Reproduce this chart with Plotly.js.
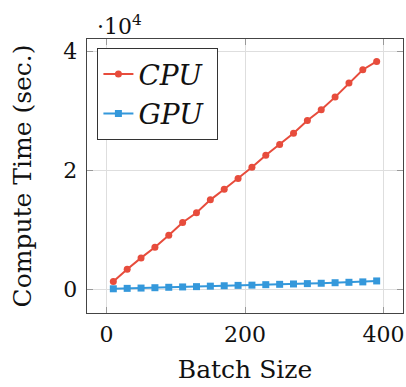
<!DOCTYPE html>
<html>
<head>
<meta charset="utf-8">
<script src="https://cdn.plot.ly/plotly-3.0.1.min.js"></script>
<style>html,body{margin:0;padding:0;background:#fff;}#chart{width:406px;height:387px;}</style>
</head>
<body>
<div id="chart"></div>
<script>
const batchSize = [10, 30, 50, 70, 90, 110, 130, 150, 170, 190, 210, 230, 250, 270, 290, 310, 330, 350, 370, 390];
const cpuTime = [1290, 3370, 5280, 7080, 9100, 11240, 12870, 15060, 16850, 18650, 20560, 22580, 24380, 26290, 28430, 30220, 32360, 34720, 36970, 38370];
const gpuTime = [80, 150, 200, 260, 330, 390, 440, 520, 590, 650, 690, 770, 830, 890, 950, 1010, 1100, 1170, 1240, 1400];
const seriesNames = ["CPU", "GPU"];
const xTickVals = [0, 200, 400];
const xTickText = ["0", "200", "400"];
const yTickVals = [0, 20000, 40000];
const yTickText = ["0", "2", "4"];

const FONT = "DejaVu Serif";

const traces = [
  {x: batchSize, y: cpuTime, name: "<i>" + seriesNames[0] + "</i>\u00a0", type: "scatter", mode: "lines+markers",
   line: {color: "#e74c3c", width: 2}, marker: {color: "#e74c3c", size: 7, symbol: "circle"}},
  {x: batchSize, y: gpuTime, name: "<i>" + seriesNames[1] + "</i>\u00a0", type: "scatter", mode: "lines+markers",
   line: {color: "#3498db", width: 2}, marker: {color: "#3498db", size: 7, symbol: "square"}}
];

const axisCommon = {
  showline: true, linecolor: "#444", linewidth: 1.3, mirror: "ticks",
  ticks: "inside", ticklen: 6, tickcolor: "#999", tickwidth: 1,
  showgrid: true, gridcolor: "#dedede", gridwidth: 1, zeroline: false,
  tickfont: {family: FONT, size: 22, color: "#111"}
};

const layout = {
  width: 406, height: 387,
  margin: {l: 87, r: 3, t: 39, b: 74},
  paper_bgcolor: "#fff", plot_bgcolor: "#fff",
  font: {family: FONT, color: "#111"},
  showlegend: true,
  legend: {x: 0.032, y: 0.967, xanchor: "left", yanchor: "top",
           bgcolor: "#fff", bordercolor: "#333", borderwidth: 1.3,
           font: {family: FONT, size: 28, color: "#111"}, tracegroupgap: 0},
  xaxis: Object.assign({}, axisCommon, {
    range: [-28, 428], tickvals: xTickVals, ticktext: xTickText, ticklabelstandoff: 1,
    title: {text: "Batch Size", font: {family: FONT, size: 25, color: "#111"}, standoff: 14}
  }),
  yaxis: Object.assign({}, axisCommon, {
    range: [-4000, 42150], tickvals: yTickVals, ticktext: yTickText, ticklabelstandoff: 4,
    title: {text: "Compute Time (sec.)", font: {family: FONT, size: 25, color: "#111"}, standoff: 24}
  }),
  annotations: [{
    xref: "paper", yref: "paper", x: 0.025, y: 1.0, xanchor: "left", yanchor: "bottom",
    text: "·10<sup>4</sup>", showarrow: false, font: {family: FONT, size: 22, color: "#111"}, yshift: -2
  }]
};

Plotly.newPlot("chart", traces, layout, {displayModeBar: false, staticPlot: true});
</script>
</body>
</html>
